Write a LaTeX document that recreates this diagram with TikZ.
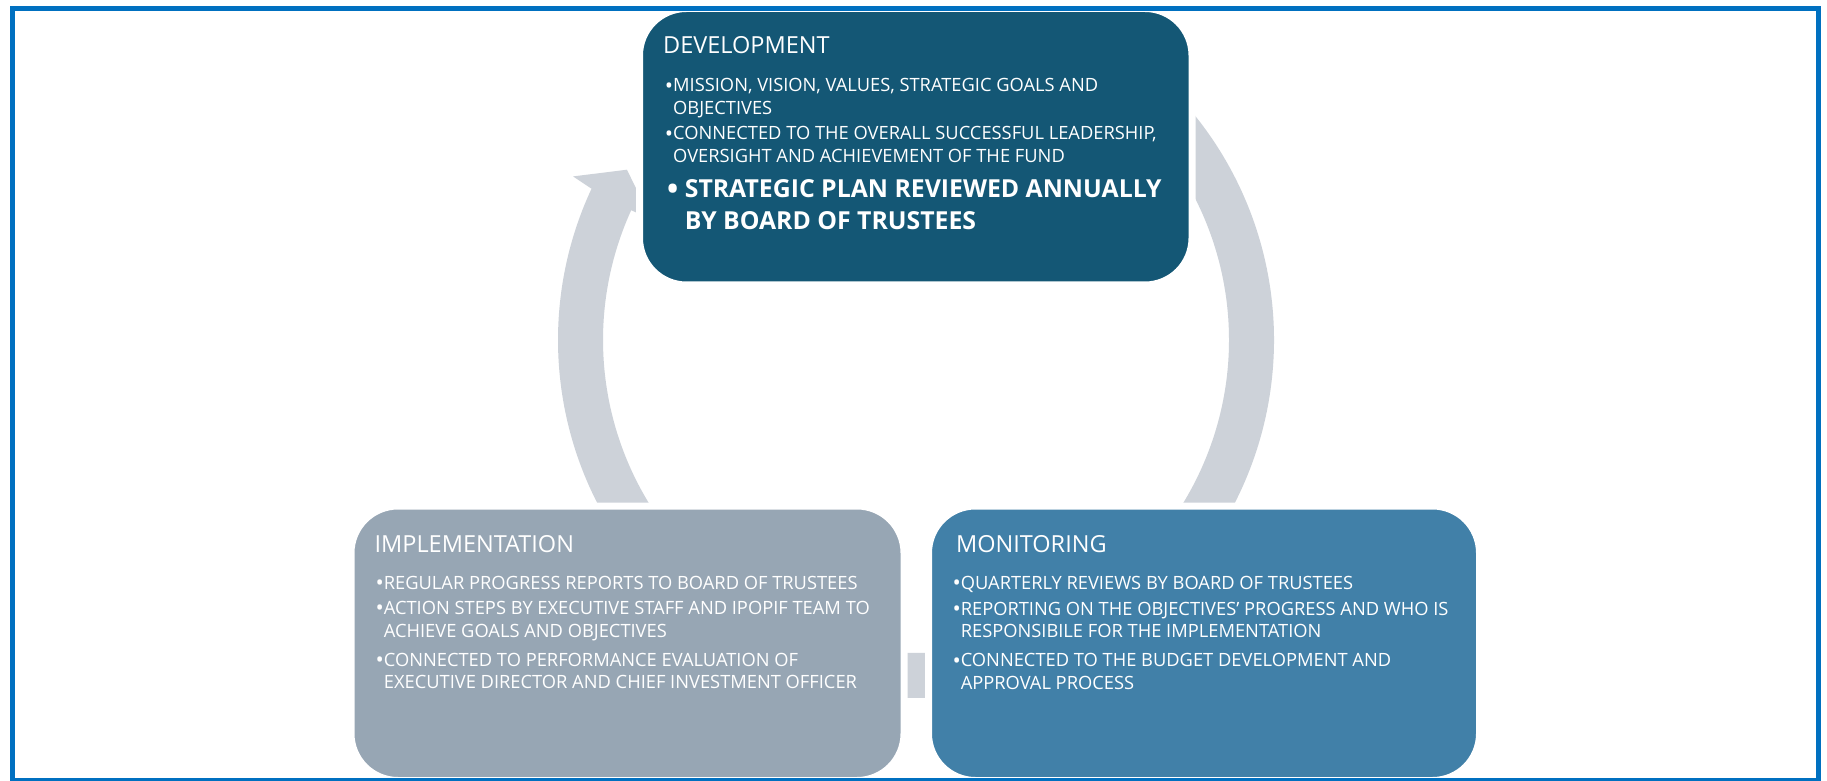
\documentclass[tikz,border=0pt]{standalone}
\usepackage{fontspec}
\setmainfont{Open Sans}
\usetikzlibrary{calc}

\definecolor{devblue}{RGB}{20,87,117}
\definecolor{implgrey}{RGB}{151,166,180}
\definecolor{monblue}{RGB}{65,128,168}
\definecolor{ringgrey}{RGB}{205,210,217}
\definecolor{frameblue}{RGB}{0,112,192}

% lines of one bullet, first baseline is the node's baseline
\newcommand{\itemlines}[1]{\begin{tabular}[t]{@{}l@{}}#1\end{tabular}}
% a slightly heavier bullet mark, kept at mid height of the capitals
\newcommand{\bulletmark}{\raisebox{-0.08em}{\scalebox{1.2}{•}}}

\begin{document}
\begin{tikzpicture}[x=1pt,y=1pt,
  phase/.style={draw=white, line width=7pt, rounded corners=47pt, inner sep=0pt},
  heading/.style={anchor=base west, inner sep=0pt, text=white,
    font=\fontsize{23.5}{28}\selectfont},
  bullet/.style={anchor=base west, inner sep=0pt, text=white,
    font=\fontsize{18.3}{22.5}\selectfont},
  keybullet/.style={anchor=base west, inner sep=0pt, text=white,
    font=\bfseries\fontsize{24.8}{32.7}\selectfont},
  ringband/.style={fill=ringgrey}]

% page
\fill[white] (0,0) rectangle (1827,780);
\useasboundingbox (0,0) rectangle (1827,780);

% cycle ring behind the three phases
\coordinate (C) at (916,440);
% left: implementation -> development, with head
\fill[ringband] ($(C)+(215:358pt)$) arc[start angle=215, end angle=155, radius=358pt]
  -- ($(C)+(154.5:380pt)$) -- ($(C)+(149.5:335.5pt)$) -- ($(C)+(155.5:291pt)$)
  -- ($(C)+(155.5:313pt)$) arc[start angle=155.5, end angle=215, radius=313pt] -- cycle;
% right: development -> monitoring
\fill[ringband] ($(C)+(50:358pt)$) arc[start angle=50, end angle=-57, radius=358pt]
  -- ($(C)+(-57.5:380pt)$) -- ($(C)+(-62.5:335.5pt)$) -- ($(C)+(-57.5:291pt)$)
  -- ($(C)+(-57:313pt)$) arc[start angle=-57, end angle=50, radius=313pt] -- cycle;
% bottom: monitoring -> implementation
\fill[ringband] ($(C)+(-65:358pt)$) arc[start angle=-65, end angle=-113, radius=358pt]
  -- ($(C)+(-113.5:380pt)$) -- ($(C)+(-118.5:335.5pt)$) -- ($(C)+(-113.5:291pt)$)
  -- ($(C)+(-113:313pt)$) arc[start angle=-113, end angle=-65, radius=313pt] -- cycle;

% phase boxes
\node[phase, fill=devblue, minimum width=552.5pt, minimum height=276.5pt] (dev) at (915.75,633.25) {};
\node[phase, fill=implgrey, minimum width=553pt, minimum height=274.5pt] (impl) at (627.5,136.75) {};
\node[phase, fill=monblue, minimum width=551pt, minimum height=274.5pt] (mon) at (1204,136.75) {};

% development
\node[heading] (devtitle) at (663,726.5) {DEVELOPMENT};
\node[bullet] (dev1) at (664.7,688) {\itemlines{\bulletmark MISSION, VISION, VALUES, STRATEGIC GOALS AND\\
  \hphantom{\bulletmark}OBJECTIVES}};
\node[bullet] (dev2) at (664.7,640) {\itemlines{\bulletmark CONNECTED TO THE OVERALL SUCCESSFUL LEADERSHIP,\\
  \hphantom{\bulletmark}OVERSIGHT AND ACHIEVEMENT OF THE FUND}};
\node[keybullet] (dev3) at (667,582.7) {\itemlines{\bulletmark\ STRATEGIC PLAN REVIEWED ANNUALLY\\
  \hphantom{\bulletmark\ }BY BOARD OF TRUSTEES}};

% implementation
\node[heading] (impltitle) at (374.4,228) {IMPLEMENTATION};
\node[bullet] (impl1) at (375.4,191) {\itemlines{\bulletmark REGULAR PROGRESS REPORTS TO BOARD OF TRUSTEES}};
\node[bullet] (impl2) at (375.4,165.5) {\itemlines{\bulletmark ACTION STEPS BY EXECUTIVE STAFF AND IPOPIF TEAM TO\\
  \hphantom{\bulletmark}ACHIEVE GOALS AND OBJECTIVES}};
\node[bullet] (impl3) at (375.4,114) {\itemlines{\bulletmark CONNECTED TO PERFORMANCE EVALUATION OF\\
  \hphantom{\bulletmark}EXECUTIVE DIRECTOR AND CHIEF INVESTMENT OFFICER}};

% monitoring
\node[heading] (montitle) at (955.9,227.7) {MONITORING};
\node[bullet] (mon1) at (952.3,190.7) {\itemlines{\bulletmark QUARTERLY REVIEWS BY BOARD OF TRUSTEES}};
\node[bullet] (mon2) at (952.3,165) {\itemlines{\bulletmark REPORTING ON THE OBJECTIVES’ PROGRESS AND WHO IS\\
  \hphantom{\bulletmark}RESPONSIBILE FOR THE IMPLEMENTATION}};
\node[bullet] (mon3) at (952.3,113.3) {\itemlines{\bulletmark CONNECTED TO THE BUDGET DEVELOPMENT AND\\
  \hphantom{\bulletmark}APPROVAL PROCESS}};

% frame
\draw[frameblue, line width=5pt] (12,771) rectangle (1818.5,-0.5);
\end{tikzpicture}
\end{document}
